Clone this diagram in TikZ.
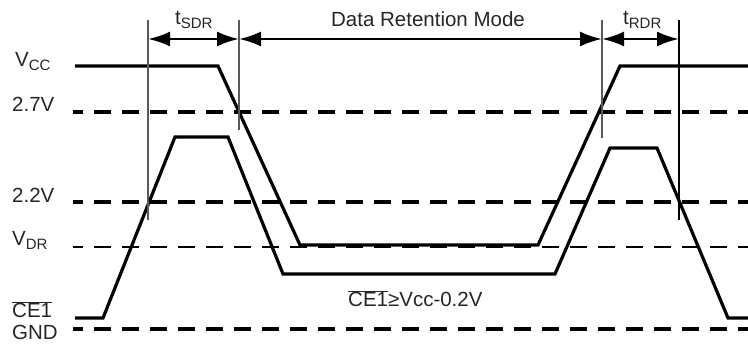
\documentclass[tikz,border=0pt]{standalone}
\usepackage{fontspec}
\setmainfont{Liberation Sans}
\usetikzlibrary{arrows.meta}

\newcommand{\lowtext}[1]{\raisebox{-4pt}{\fontsize{15}{15}\selectfont #1}}

\tikzset{
	signal/.style={line width=3.2pt, line join=miter},
	level/.style={line width=3.4pt, dash pattern=on 17pt off 11pt, dash phase=7pt},
	levelthin/.style={line width=1.6pt, dash pattern=on 17pt off 11pt, dash phase=7pt},
	marker/.style={line width=1.5pt, draw=black!65},
	tip/.tip={Latex[length=22pt,width=15pt]},
	span/.style={line width=2.6pt, tip-tip},
	lbl/.style={anchor=base west, inner sep=0pt, text=black!85,
		font=\fontsize{20.5}{24}\selectfont},
}

\begin{document}
\begin{tikzpicture}[x=1pt, y=-1pt]
	\useasboundingbox (0,0) rectangle (748,344);
	% levels
	\draw[level] (73,112) -- (748,112);
	\draw[level] (73,202) -- (748,202);
	\draw[levelthin] (73,247) -- (748,247);
	\draw[level] (73,329) -- (748,329);
	% level names
	\node[lbl] (vcc) at (15,67) {V\lowtext{CC}};
	\node[lbl] (v27) at (12,112) {2.7V};
	\node[lbl] (v22) at (12,203) {2.2V};
	\node[lbl] (vdr) at (12,246) {V\lowtext{DR}};
	\node[lbl] (ce) at (12,318) {$\overline{\mbox{CE1}}$};
	\node[lbl] (gnd) at (12,340) {GND};
	% Vcc
	\draw[signal] (75,66) -- (218,66) -- (300,245) -- (538,245) -- (620,66) -- (748,66);
	% CE1
	\draw[signal] (75,318) -- (103,318) -- (175,137) -- (228,137) -- (283,274)
		-- (555,274) -- (610,148) -- (657,148) -- (728,318) -- (748,318);
	% time markers
	\draw[marker] (148,20) -- (148,220);
	\draw[marker] (239,20) -- (239,130);
	\draw[marker] (602,20) -- (602,138);
	\draw[line width=2.4pt] (679,20) -- (679,220);
	\coordinate (m1) at (148,39);
	\coordinate (m2) at (239,39);
	\coordinate (m3) at (602,39);
	\coordinate (m4) at (679,39);
	\draw[span] (m1) -- (m2);
	\draw[span] (m2) -- (m3);
	\draw[span] (m3) -- (m4);
	% timing names
	\node[lbl] (tsdr) at (175,25) {t\lowtext{SDR}};
	\node[lbl, anchor=base] (drm) at (428,27) {Data Retention Mode};
	\node[lbl] (trdr) at (623,25) {t\lowtext{RDR}};
	\node[lbl] (cond) at (348,307) {$\overline{\mbox{CE1}}$≥Vcc-0.2V};
\end{tikzpicture}
\end{document}
